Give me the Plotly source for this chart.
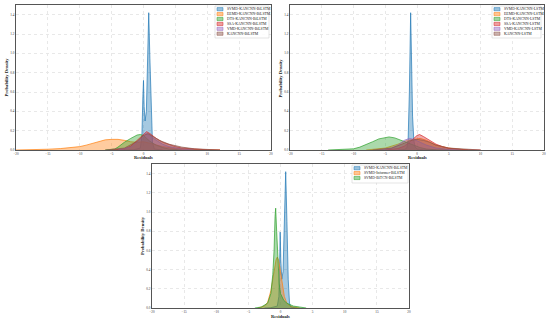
import plotly.graph_objects as go

# ---------------- data ----------------
tl_names = ["SVMD-KANCNN-BiLSTM", "EEMD-KANCNN-BiLSTM", "DTS-KANCNN-BiLSTM",
            "SSA-KANCNN-BiLSTM", "VMD-KANCNN-BiLSTM", "KANCNN-BiLSTM"]
tl_x = [
    [-3, -1.5, -0.5, -0.25, -0.1, 0.0, 0.1, 0.25, 0.45, 0.65, 0.82, 1.0, 1.2, 1.4, 1.7, 3],
    [-20, -17, -15, -13, -11, -10, -9, -8, -7, -6, -5, -4, -3, -2, -1, 0, 1, 2, 3, 5, 7, 10, 12],
    [-6, -4.5, -4, -3, -2, -1, -0.5, 0, 0.5, 1, 2, 3, 4, 6],
    [-5, -3, -2, -1, 0, 0.5, 1, 2, 3, 4, 5, 6, 8, 10, 12],
    [-4, -2, -1, 0, 0.4, 1, 2, 3, 4, 6, 8],
    [-6, -3, -1, 0, 0.7, 1.5, 2.5, 4, 6, 8, 10, 12],
]
tl_y = [
    [0, 0.003, 0.02, 0.15, 0.55, 0.72, 0.45, 0.3, 0.4, 0.9, 1.42, 0.95, 0.35, 0.08, 0.01, 0],
    [0, 0.002, 0.008, 0.015, 0.025, 0.035, 0.05, 0.07, 0.09, 0.105, 0.11, 0.11, 0.1, 0.085, 0.08, 0.085, 0.07, 0.05, 0.035, 0.015, 0.006, 0.001, 0],
    [0, 0.01, 0.03, 0.08, 0.12, 0.155, 0.16, 0.15, 0.12, 0.09, 0.05, 0.025, 0.01, 0],
    [0, 0.01, 0.04, 0.1, 0.17, 0.19, 0.17, 0.12, 0.08, 0.055, 0.035, 0.02, 0.008, 0.002, 0],
    [0, 0.03, 0.08, 0.15, 0.17, 0.15, 0.1, 0.06, 0.035, 0.01, 0],
    [0, 0.02, 0.09, 0.15, 0.17, 0.14, 0.1, 0.06, 0.03, 0.012, 0.004, 0],
]

tr_names = ["SVMD-KANCNN-LSTM", "EEMD-KANCNN-LSTM", "DTS-KANCNN-LSTM",
            "SSA-KANCNN-LSTM", "VMD-KANCNN-LSTM", "KANCNN-LSTM"]
tr_x = [
    [-3, -2, -1.6, -1.4, -1.2, -1.0, -0.85, -0.7, -0.5, -0.3, 0, 1, 3],
    [-8, -5, -3, -1.5, -0.5, 0.5, 1.5, 3, 5, 8],
    [-14, -12, -10, -9, -8, -7, -6, -5, -4.4, -3.5, -2.5, -1.5, -0.5, 0.5, 1.5, 3, 5],
    [-5, -3, -2, -1, 0, 0.4, 1, 2, 3, 4, 5, 7, 10],
    [-6, -4, -3, -2, -1.2, -0.5, 0.5, 1.5, 3, 5, 7],
    [-7, -4, -2, -1, 0, 1, 2, 3, 5, 8, 10],
]
tr_y = [
    [0, 0.005, 0.02, 0.1, 0.6, 1.42, 0.9, 0.35, 0.1, 0.03, 0.01, 0.003, 0],
    [0, 0.02, 0.06, 0.1, 0.11, 0.12, 0.1, 0.05, 0.02, 0],
    [0, 0.003, 0.012, 0.03, 0.055, 0.085, 0.115, 0.13, 0.135, 0.125, 0.1, 0.07, 0.045, 0.025, 0.01, 0.002, 0],
    [0, 0.015, 0.04, 0.09, 0.15, 0.16, 0.14, 0.1, 0.06, 0.035, 0.018, 0.005, 0],
    [0, 0.02, 0.05, 0.1, 0.12, 0.11, 0.08, 0.05, 0.02, 0.005, 0],
    [0, 0.02, 0.07, 0.1, 0.11, 0.1, 0.08, 0.05, 0.02, 0.005, 0],
]

bt_names = ["SVMD-KANCNN-BiLSTM", "SVMD-Informer-BiLSTM", "SVMD-BiTCN-BiLSTM"]
bt_x = [
    [-2.5, -1.5, -0.5, -0.25, -0.1, -0.05, 0.05, 0.2, 0.4, 0.6, 0.81, 1.0, 1.2, 1.4, 1.6, 2.5],
    [-3.5, -2.5, -2, -1.5, -1, -0.7, -0.5, -0.3, 0, 0.3, 0.6, 1, 1.5, 2, 3],
    [-4, -3, -2, -1.5, -1.2, -1, -0.85, -0.75, -0.6, -0.4, -0.2, 0, 0.5, 1, 2, 3, 4],
]
bt_y = [
    [0, 0.003, 0.02, 0.12, 0.6, 0.79, 0.5, 0.3, 0.38, 0.85, 1.42, 0.9, 0.3, 0.05, 0.01, 0],
    [0, 0.02, 0.06, 0.18, 0.38, 0.5, 0.53, 0.5, 0.38, 0.22, 0.12, 0.05, 0.02, 0.01, 0],
    [0, 0.01, 0.05, 0.15, 0.35, 0.6, 0.95, 1.04, 0.8, 0.45, 0.25, 0.15, 0.08, 0.05, 0.02, 0.01, 0],
]

x_ticks = [-20, -15, -10, -5, 0, 5, 10, 15, 20]
y_ticks = [0.0, 0.2, 0.4, 0.6, 0.8, 1.0, 1.2, 1.4]
x_title = "Residuals"
y_title = "Probability Density"

colors = ["#1f77b4", "#ff7f0e", "#2ca02c", "#d62728", "#9467bd", "#8c564b"]


def rgba(h, a):
    h = h.lstrip("#")
    return "rgba(%d,%d,%d,%s)" % (int(h[0:2], 16), int(h[2:4], 16), int(h[4:6], 16), a)


W, H = 550, 322
FONT = "Liberation Serif, Times New Roman, serif"

# panel boxes in pixels: (left, right, top, bottom)
boxes = [(16, 271, 5, 150), (290, 544, 5, 150), (152, 409, 164, 308)]
# legend boxes in pixels: (left, right, top, bottom)
leg_boxes = [(215, 269, 6, 38), (492, 541, 6, 38), (352, 408, 165, 183)]

fig = go.Figure()

panels = [(tl_names, tl_x, tl_y), (tr_names, tr_x, tr_y), (bt_names, bt_x, bt_y)]
shapes = []
annotations = []
for p, (names, xs, ys) in enumerate(panels):
    sfx = "" if p == 0 else str(p + 1)
    for i, (n, xv, yv) in enumerate(zip(names, xs, ys)):
        fig.add_trace(go.Scatter(
            x=xv, y=yv, name=n, mode="lines", fill="tozeroy",
            line=dict(color=colors[i], width=0.7),
            fillcolor=rgba(colors[i], 0.4),
            xaxis="x" + sfx, yaxis="y" + sfx, showlegend=False,
        ))
    l, r, t, b = boxes[p]
    # axis titles
    annotations.append(dict(text="<b>%s</b>" % x_title, xref="paper", yref="paper",
                            x=(l + r) / 2 / W, y=1 - 157 / H if p < 2 else 1 - 316 / H,
                            xanchor="center", yanchor="middle", showarrow=False,
                            font=dict(size=4.6, family=FONT, color="#222")))
    annotations.append(dict(text="<b>%s</b>" % y_title, xref="paper", yref="paper",
                            x=(l - 10) / W, y=1 - (t + b) / 2 / H, textangle=-90,
                            xanchor="center", yanchor="middle", showarrow=False,
                            font=dict(size=4.6, family=FONT, color="#222")))
    # manual legend
    ll, lr, lt, lb = leg_boxes[p]
    shapes.append(dict(type="rect", xref="paper", yref="paper",
                       x0=ll / W, x1=lr / W, y0=1 - lb / H, y1=1 - lt / H,
                       line=dict(color="#c8c8c8", width=0.5),
                       fillcolor="rgba(255,255,255,0.85)", layer="above"))
    for i, n in enumerate(names):
        yc = lt + 3.2 + i * 4.9
        shapes.append(dict(type="rect", xref="paper", yref="paper",
                           x0=(ll + 2) / W, x1=(ll + 8) / W,
                           y0=1 - (yc + 1.6) / H, y1=1 - (yc - 1.6) / H,
                           line=dict(color=colors[i], width=0.5),
                           fillcolor=rgba(colors[i], 0.45), layer="above"))
        annotations.append(dict(text=n, xref="paper", yref="paper",
                                x=(ll + 10) / W, y=1 - yc / H,
                                xanchor="left", yanchor="middle", showarrow=False,
                                font=dict(size=3.8, family=FONT, color="#222")))

axis_common = dict(
    showline=True, linecolor="#555", linewidth=0.8, mirror=True,
    showgrid=True, gridcolor="#e8e8e8", gridwidth=0.5, griddash="dot",
    zeroline=False, ticks="", automargin=False,
    tickfont=dict(size=3.3, family=FONT, color="#333"),
)
xdef = dict(axis_common, range=[-20, 20], tickvals=x_ticks)
ydef = dict(axis_common, range=[0, 1.5], tickvals=y_ticks, tickformat=".1f")


def dx(a, b):
    return [a / W, b / W]


def dy(top, bottom):
    return [1 - bottom / H, 1 - top / H]


fig.update_layout(
    template="none",
    width=W, height=H, margin=dict(l=0, r=0, t=0, b=0),
    paper_bgcolor="white", plot_bgcolor="white",
    showlegend=False, hovermode=False,
    xaxis=dict(xdef, domain=dx(16, 271), anchor="y"),
    yaxis=dict(ydef, domain=dy(5, 150), anchor="x"),
    xaxis2=dict(xdef, domain=dx(290, 544), anchor="y2"),
    yaxis2=dict(ydef, domain=dy(5, 150), anchor="x2"),
    xaxis3=dict(xdef, domain=dx(152, 409), anchor="y3"),
    yaxis3=dict(ydef, domain=dy(164, 308), anchor="x3"),
    shapes=shapes, annotations=annotations,
)

fig.write_html("out.html", config={"displayModeBar": False},
               post_script="document.body.style.margin='0';document.body.style.overflow='hidden';")
